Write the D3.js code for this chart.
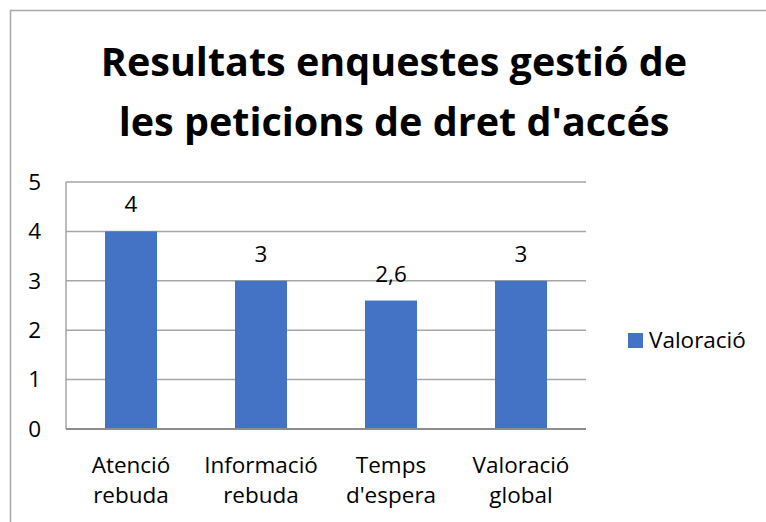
<!DOCTYPE html>
<html>
<head>
<meta charset="utf-8">
<script src="https://cdn.jsdelivr.net/npm/d3@7"></script>
<style>
  body { margin: 0; background: #fff; }
  text { font-family: "Open Sans", "Noto Sans", sans-serif; fill: #000; }
</style>
</head>
<body>
<div id="chart"></div>
<script>
// chart data
const categories = [["Atenció", "rebuda"], ["Informació", "rebuda"], ["Temps", "d'espera"], ["Valoració", "global"]];
const values = [4, 3, 2.6, 3];
const yTicks = [0, 1, 2, 3, 4, 5];
const seriesName = "Valoració";
const titleLines = ["Resultats enquestes gestió de", "les peticions de dret d'accés"];

const W = 766, H = 522;
const plot = {left: 66, right: 586, top: 182, bottom: 429};
const fs = 22.5;

const svg = d3.select("#chart").append("svg")
    .attr("width", W)
    .attr("height", H);

// outer chart border (cut off on right/bottom like the screenshot)
svg.append("rect")
    .attr("x", 10.5).attr("y", 10.5)
    .attr("width", W + 20).attr("height", H + 20)
    .attr("fill", "none")
    .attr("stroke", "#a6a6a6")
    .attr("stroke-width", 1.5);

// title
svg.selectAll(".title")
    .data(titleLines)
  .enter().append("text")
    .attr("class", "title")
    .attr("x", 394)
    .attr("y", (d, i) => 76 + i * 60)
    .attr("text-anchor", "middle")
    .attr("font-size", 39.5)
    .attr("font-weight", "bold")
    .text(d => d);

const x = d3.scaleBand()
    .domain(d3.range(categories.length))
    .range([plot.left, plot.right])
    .paddingInner(0.6)
    .paddingOuter(0.3);

const y = d3.scaleLinear()
    .domain([0, 5])
    .range([plot.bottom, plot.top]);

// gridlines
svg.selectAll(".grid")
    .data(yTicks.slice(1))
  .enter().append("line")
    .attr("class", "grid")
    .attr("x1", plot.left).attr("x2", plot.right)
    .attr("y1", d => y(d)).attr("y2", d => y(d))
    .attr("stroke", "#a6a6a6")
    .attr("stroke-width", 1.5);

// left edge of plot area
svg.append("line")
    .attr("x1", plot.left).attr("x2", plot.left)
    .attr("y1", plot.top).attr("y2", plot.bottom)
    .attr("stroke", "#a6a6a6")
    .attr("stroke-width", 1.5);

// y axis labels
svg.append("g")
    .attr("transform", `translate(${plot.left},0)`)
    .call(d3.axisLeft(y).tickValues(yTicks).tickSize(0).tickPadding(25).tickFormat(d3.format("d")))
    .call(g => g.select(".domain").remove())
    .call(g => g.selectAll("text").attr("font-size", fs).attr("font-family", "'Open Sans', sans-serif").attr("fill", "#000"));

// bars
svg.selectAll(".bar")
    .data(values)
  .enter().append("rect")
    .attr("class", "bar")
    .attr("x", (d, i) => x(i))
    .attr("y", d => y(d))
    .attr("width", x.bandwidth())
    .attr("height", d => y(0) - y(d))
    .attr("fill", "#4472c4");

// x axis line
svg.append("line")
    .attr("x1", plot.left).attr("x2", plot.right)
    .attr("y1", y(0)).attr("y2", y(0))
    .attr("stroke", "#8c8c8c")
    .attr("stroke-width", 2);

// data labels
svg.selectAll(".val")
    .data(values)
  .enter().append("text")
    .attr("class", "val")
    .attr("x", (d, i) => x(i) + x.bandwidth() / 2)
    .attr("y", d => y(d) - 19)
    .attr("text-anchor", "middle")
    .attr("font-size", fs)
    .text(d => String(d).replace(".", ","));

// category labels
const cat = svg.selectAll(".cat")
    .data(categories)
  .enter().append("text")
    .attr("class", "cat")
    .attr("text-anchor", "middle")
    .attr("font-size", fs);
cat.selectAll("tspan")
    .data((d, i) => d.map(t => ({t, i})))
  .enter().append("tspan")
    .attr("x", d => x(d.i) + x.bandwidth() / 2)
    .attr("y", (d, j) => 473 + j * 30)
    .text(d => d.t);

// legend
svg.append("rect")
    .attr("x", 628).attr("y", 333)
    .attr("width", 15).attr("height", 15)
    .attr("fill", "#4472c4");
svg.append("text")
    .attr("x", 649).attr("y", 348)
    .attr("font-size", fs)
    .text(seriesName);
</script>
</body>
</html>
